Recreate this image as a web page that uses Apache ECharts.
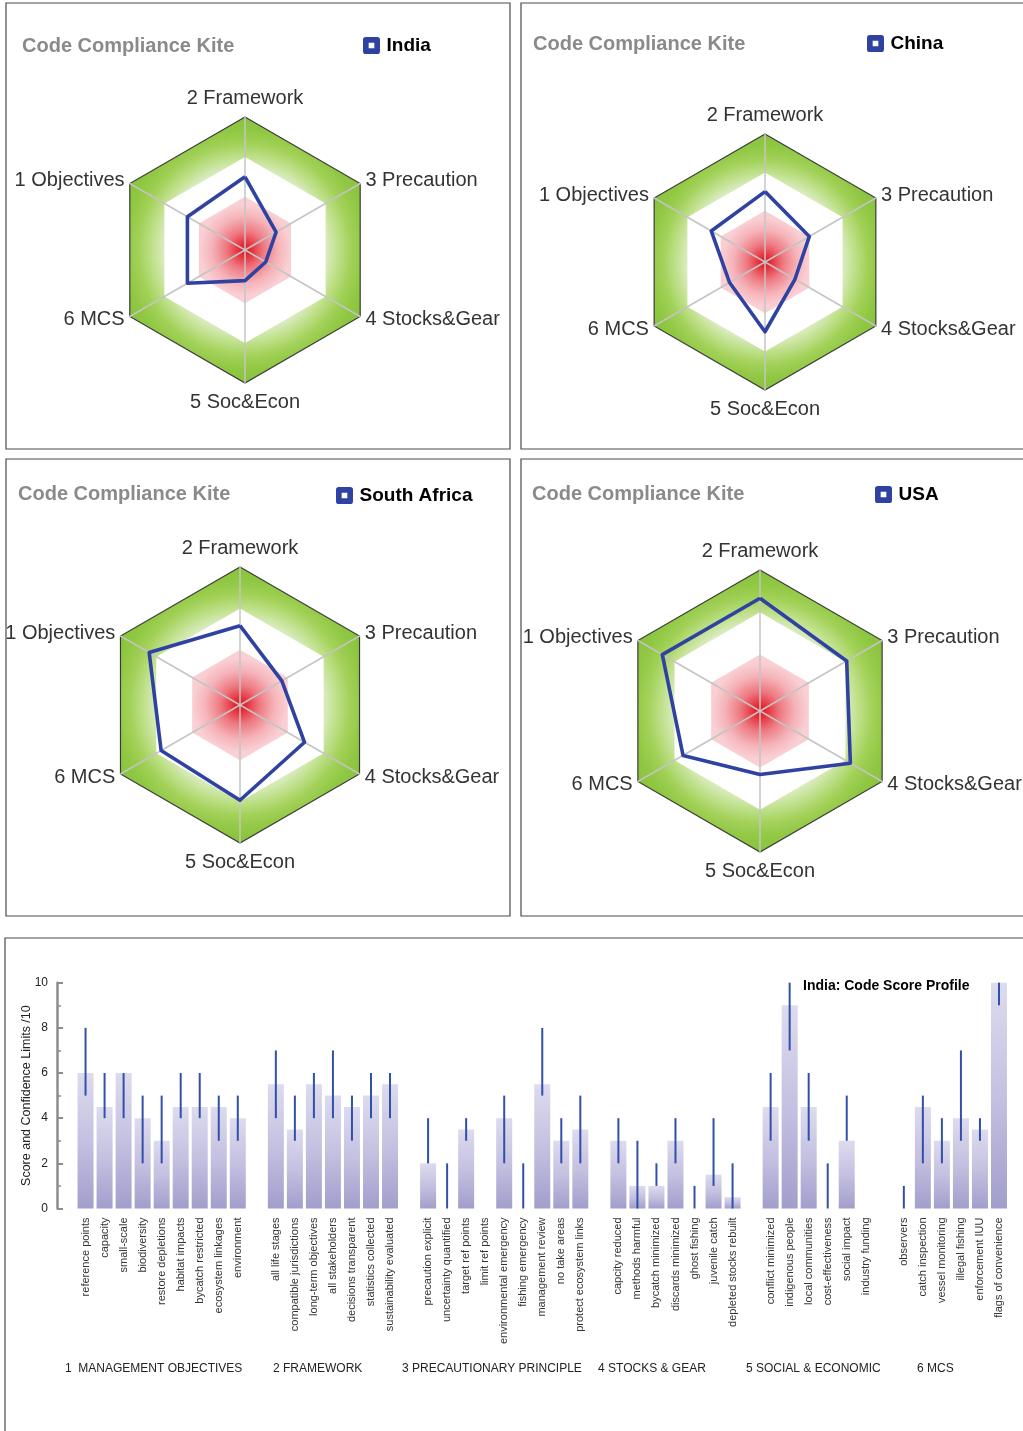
<!DOCTYPE html>
<html>
<head>
<meta charset="utf-8">
<title>Code Compliance Kites and Code Score Profile</title>
<script src="https://cdn.jsdelivr.net/npm/echarts/dist/echarts.min.js"></script>
<style>
  html, body { margin: 0; padding: 0; background: #ffffff; }
  #main { width: 1023px; height: 1431px; }
</style>
</head>
<body>
<div id="main"></div>
<script>
// ---------- Kite (radar) data: scores out of 10 per code section ----------
const kiteAxes = ['1 Objectives', '2 Framework', '3 Precaution', '4 Stocks&Gear', '5 Soc&Econ', '6 MCS'];
const kiteCountries = ['India', 'China', 'South Africa', 'USA'];
const indiaKite = [5.0, 5.5, 2.7, 1.8, 2.3, 5.0];
const chinaKite = [4.85, 5.5, 4.0, 2.7, 5.45, 3.2];
const southAfricaKite = [7.6, 5.75, 3.5, 5.4, 6.9, 6.6];
const usaKite = [8.0, 8.0, 7.1, 7.4, 4.5, 6.3];
const kiteValues = [indiaKite, chinaKite, southAfricaKite, usaKite];
// score bands behind each kite: green 7-10, white 4-7, red 0-4
const kiteBands = [10, 7, 4];

// ---------- India code score profile: score and confidence limits per question ----------
const mgmtItems = ['reference points', 'capacity', 'small-scale', 'biodiversity', 'restore depletions',
  'habitat impacts', 'bycatch restricted', 'ecosystem linkages', 'environment'];
const mgmtScore = [6, 4.5, 6, 4, 3, 4.5, 4.5, 4.5, 4];
const mgmtLow = [5, 4, 4, 2, 2, 4, 4, 3, 3];
const mgmtHigh = [8, 6, 6, 5, 5, 6, 6, 5, 5];

const frameItems = ['all life stages', 'compatible jurisdictions', 'long-term objectives', 'all stakeholders',
  'decisions transparent', 'statistics collected', 'sustainability evaluated'];
const frameScore = [5.5, 3.5, 5.5, 5, 4.5, 5, 5.5];
const frameLow = [4, 3, 4, 4, 3, 4, 4];
const frameHigh = [7, 5, 6, 7, 5, 6, 6];

const precItems = ['precaution explicit', 'uncertainty quantified', 'target ref points', 'limit ref points',
  'environmental emergency', 'fishing emergency', 'management review', 'no take areas', 'protect ecosystem links'];
const precScore = [2, 0, 3.5, 0, 4, 0, 5.5, 3, 3.5];
const precLow = [2, 0, 3, null, 2, 0, 5, 2, 2];
const precHigh = [4, 2, 4, null, 5, 2, 8, 4, 5];

const stockItems = ['capcity reduced', 'methods harmful', 'bycatch minimized', 'discards minimized',
  'ghost fishing', 'juvenile catch', 'depleted stocks rebuilt'];
const stockScore = [3, 1, 1, 3, 0, 1.5, 0.5];
const stockLow = [2, 0, 1, 2, 0, 1, 0];
const stockHigh = [4, 3, 2, 4, 1, 4, 2];

const socItems = ['conflict minimized', 'indigenous people', 'local communities', 'cost-effectiveness',
  'social impact', 'industry funding'];
const socScore = [4.5, 9, 4.5, 0, 3, 0];
const socLow = [3, 7, 3, 0, 3, null];
const socHigh = [6, 10, 6, 2, 5, null];

const mcsItems = ['observers', 'catch inspection', 'vessel monitoring', 'illegal fishing',
  'enforcement IUU', 'flags of convenience'];
const mcsScore = [0, 4.5, 3, 4, 3.5, 10];
const mcsLow = [0, 2, 2, 3, 3, 9];
const mcsHigh = [1, 5, 4, 7, 4, 10];

const groupTitles = ['1  MANAGEMENT OBJECTIVES', '2 FRAMEWORK', '3 PRECAUTIONARY PRINCIPLE',
  '4 STOCKS & GEAR', '5 SOCIAL & ECONOMIC', '6 MCS'];
const yTicks = [0, 2, 4, 6, 8, 10];

// ---------- build category axis (one blank slot before each group) ----------
const groups = [
  [mgmtItems, mgmtScore, mgmtLow, mgmtHigh],
  [frameItems, frameScore, frameLow, frameHigh],
  [precItems, precScore, precLow, precHigh],
  [stockItems, stockScore, stockLow, stockHigh],
  [socItems, socScore, socLow, socHigh],
  [mcsItems, mcsScore, mcsLow, mcsHigh]
];
const categories = [];
const barValues = [];
const errorBars = [];
groups.forEach(([items, score, low, high]) => {
  categories.push('');
  barValues.push(null);
  items.forEach((name, i) => {
    const idx = categories.length;
    categories.push(name);
    barValues.push(score[i]);
    if (low[i] != null && high[i] != null) errorBars.push([idx, low[i], high[i]]);
  });
});

// ---------- styling / layout ----------
const FONT = '"Liberation Sans", Arial, Helvetica, sans-serif';
const KITE_BLUE = '#2f42a2';
const KITE_MAX = 10;
// axes are placed counter-clockwise starting at the top
const displayOrder = [1, 0, 5, 4, 3, 2];
const kiteLayout = [
  { center: [245, 250], radius: 133, title: [22, 36], legend: [363, 36] },
  { center: [765, 262], radius: 128, title: [533, 34], legend: [867, 34] },
  { center: [240, 705], radius: 138, title: [18, 484], legend: [336, 486] },
  { center: [760, 711], radius: 141, title: [532, 484], legend: [875, 485] }
];

function bandFills(cx, cy, r) {
  const green = new echarts.graphic.RadialGradient(cx, cy, r, [
    { offset: 0, color: '#e3f0d0' },
    { offset: 0.6, color: '#ddedc6' },
    { offset: 0.7, color: '#bfe08a' },
    { offset: 0.8, color: '#a2d158' },
    { offset: 0.9, color: '#90c843' },
    { offset: 1, color: '#88c23c' }
  ], true);
  const red = new echarts.graphic.RadialGradient(cx, cy, r, [
    { offset: 0, color: '#e3101c' },
    { offset: 0.05, color: '#e6303a' },
    { offset: 0.14, color: '#ee7880' },
    { offset: 0.25, color: '#f5b3b9' },
    { offset: 0.34, color: '#f9cfd3' },
    { offset: 1, color: '#fbd8db' }
  ], true);
  return [green, '#ffffff', red];
}

const hiddenIndicators = () => displayOrder.map(i => ({ name: kiteAxes[i], min: 0, max: KITE_MAX }));

// each kite = three filled band hexagons + one overlay carrying spokes, names and outline
const radars = [];
const kiteRadarIndex = [];
kiteLayout.forEach(layout => {
  const [cx, cy] = layout.center;
  const R = layout.radius;
  const fills = bandFills(cx, cy, R);
  kiteBands.forEach((band, b) => {
    radars.push({
      center: [cx, cy], radius: R * band / KITE_MAX, startAngle: 90, shape: 'polygon', splitNumber: 1,
      indicator: hiddenIndicators(),
      axisName: { show: false },
      axisLine: { show: false }, axisTick: { show: false }, axisLabel: { show: false },
      splitLine: { show: false },
      splitArea: { show: true, areaStyle: { color: [fills[b], fills[b]] } }
    });
  });
  kiteRadarIndex.push(radars.length);
  radars.push({
    center: [cx, cy], radius: R, startAngle: 90, shape: 'polygon', splitNumber: 1,
    indicator: hiddenIndicators(),
    axisName: { color: '#333333', fontSize: 20, fontFamily: FONT, padding: [3, 0, 3, 0] },
    nameGap: 6,
    axisLine: { show: true, lineStyle: { color: '#c4c4c4', width: 1.5 } },
    axisTick: { show: false }, axisLabel: { show: false },
    splitLine: { show: true, lineStyle: { color: '#3a3a3a', width: 1.2 } },
    splitArea: { show: false }
  });
});

const chart = echarts.init(document.getElementById('main'), null, { renderer: 'canvas' });

const titleStyle = { fontSize: 20, fontWeight: 'bold', color: '#8a8a8a', fontFamily: FONT };
const titles = kiteLayout.map(l => ({
  text: 'Code Compliance Kite', left: l.title[0], top: l.title[1], padding: 0, textStyle: titleStyle
}));
titles.push({
  text: 'India: Code Score Profile', left: 803, top: 979, padding: 0,
  textStyle: { fontSize: 14, fontWeight: 'bold', color: '#000000', fontFamily: FONT }
});

// blue rounded square with a small white centre
const legendIcon = 'path://M3,0H15A3,3 0 0 1 18,3V15A3,3 0 0 1 15,18H3A3,3 0 0 1 0,15V3A3,3 0 0 1 3,0ZM6,6V12H12V6Z';
const legends = kiteLayout.map((l, k) => ({
  data: [kiteCountries[k]],
  left: l.legend[0], top: l.legend[1], padding: 0,
  orient: 'horizontal',
  icon: legendIcon, itemWidth: 18, itemHeight: 17,
  itemStyle: { color: KITE_BLUE, borderWidth: 0 },
  textStyle: { fontSize: 19, fontWeight: 'bold', color: '#000000', fontFamily: FONT, padding: [0, 0, 0, 1] },
  selectedMode: false
}));

const radarSeries = kiteValues.map((vals, k) => ({
  type: 'radar',
  radarIndex: kiteRadarIndex[k],
  symbol: 'none',
  z: 4,
  lineStyle: { color: KITE_BLUE, width: 3.6 },
  itemStyle: { color: KITE_BLUE },
  data: [{ name: kiteCountries[k], value: displayOrder.map(i => vals[i]) }]
}));

const panelBorder = (x, y, w, h) => ({
  type: 'rect', z: -1, silent: true,
  shape: { x: x, y: y, width: w, height: h },
  style: { fill: 'none', stroke: '#4a4a4a', lineWidth: 1.2 }
});
const groupLabelX = [65, 273, 402, 598, 746, 917];

chart.setOption({
  animation: false,
  backgroundColor: '#ffffff',
  textStyle: { fontFamily: FONT },
  title: titles,
  legend: legends,
  radar: radars,
  grid: { left: 57, right: 14.5, top: 982.7, bottom: 222.5, containLabel: false, outerBoundsMode: 'none' },
  xAxis: {
    type: 'category',
    data: categories,
    axisLine: { show: false },
    axisTick: { show: false },
    splitLine: { show: false },
    axisLabel: { interval: 0, rotate: 90, fontSize: 11, color: '#333333', margin: 9, fontFamily: FONT }
  },
  yAxis: {
    type: 'value',
    min: yTicks[0], max: yTicks[yTicks.length - 1], interval: yTicks[1] - yTicks[0],
    name: 'Score and Confidence Limits /10',
    nameLocation: 'middle', nameGap: 24, nameMoveOverlap: false,
    nameTextStyle: { fontSize: 12.5, color: '#222222', fontFamily: FONT },
    axisLine: { show: true, lineStyle: { color: '#8c8c8c', width: 2.5 } },
    axisTick: { show: true, inside: true, length: 6, lineStyle: { color: '#8c8c8c', width: 2 } },
    minorTick: { show: true, splitNumber: 2, length: 4, lineStyle: { color: '#8c8c8c', width: 1.5 } },
    splitLine: { show: false },
    axisLabel: { fontSize: 12, color: '#222222', margin: 9, fontFamily: FONT }
  },
  series: radarSeries.concat([
    {
      type: 'bar',
      name: 'score',
      data: barValues,
      barWidth: 16,
      z: 2,
      itemStyle: {
        color: new echarts.graphic.LinearGradient(0, 0, 0, 1, [
          { offset: 0, color: '#dddbee' },
          { offset: 0.5, color: '#c4c1e1' },
          { offset: 1, color: '#a29ecc' }
        ])
      }
    },
    {
      type: 'custom',
      name: 'confidence',
      data: errorBars,
      encode: { x: 0, y: [1, 2] },
      clip: false,
      z: 3,
      renderItem: function (params, api) {
        const lo = api.coord([api.value(0), api.value(1)]);
        const hi = api.coord([api.value(0), api.value(2)]);
        return {
          type: 'line',
          shape: { x1: lo[0], y1: lo[1], x2: hi[0], y2: hi[1] },
          style: { stroke: '#3150a8', lineWidth: 2 }
        };
      }
    }
  ]),
  graphic: [
    panelBorder(6, 3, 504, 446),
    panelBorder(521, 3, 520, 446),
    panelBorder(6, 459, 504, 457),
    panelBorder(521, 459, 520, 457),
    panelBorder(5, 938, 1030, 520)
  ].concat(groupTitles.map((t, i) => ({
    type: 'text', silent: true,
    x: groupLabelX[i], y: 1369,
    style: { text: t, font: '12px ' + FONT, fill: '#222222', verticalAlign: 'middle' }
  })))
});
</script>
</body>
</html>
